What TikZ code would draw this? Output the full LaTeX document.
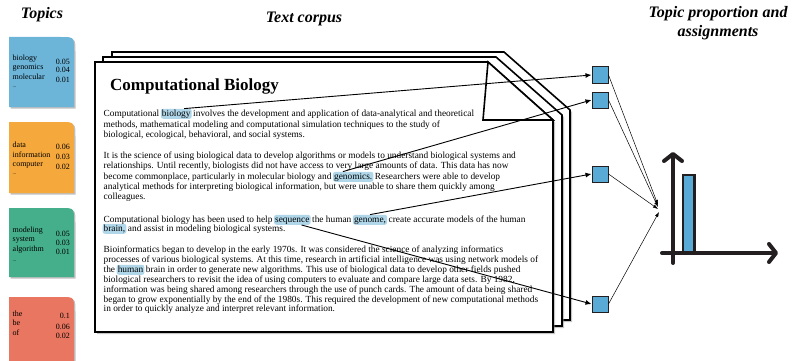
\documentclass[tikz,border=0pt]{standalone}
\usepackage{fontspec}
\setmainfont{Liberation Serif}
\usetikzlibrary{arrows.meta,positioning,shadows,calc}
\definecolor{tblue}{RGB}{108,181,217}
\definecolor{torange}{RGB}{245,168,60}
\definecolor{tgreen}{RGB}{69,175,139}
\definecolor{tred}{RGB}{232,118,96}
\definecolor{hlblue}{RGB}{176,215,233}
\definecolor{sqblue}{RGB}{90,170,214}
\definecolor{axisdark}{RGB}{35,31,32}
\newcommand\bodyfont{\fontsize{9.35}{10.2}\selectfont}
\newcommand\topicfont{\fontsize{8}{9.5}\selectfont}
\begin{document}
\begin{tikzpicture}[x=1pt,y=-1pt,
  txt/.style={inner sep=0pt, anchor=base west, font=\bodyfont},
  hl/.style={fill=hlblue, rounded corners=2.5pt, inner xsep=1.2pt, inner ysep=0.8pt, text height=6.4pt, text depth=2pt, font=\bodyfont},
  heading/.style={font=\fontsize{16}{19}\selectfont\bfseries\itshape, inner sep=0pt},
  page/.style={draw=black, line width=1.6pt, line join=miter, fill=white, drop shadow={shadow xshift=2pt, shadow yshift=-2pt, fill=black!45}},
  topicbox/.style={drop shadow={shadow xshift=1.5pt, shadow yshift=-1.5pt, fill=black!50}},
  tword/.style={inner sep=0pt, anchor=base west, font=\topicfont},
  tnum/.style={inner sep=0pt, anchor=base east, font=\topicfont},
  tdots/.style={inner sep=0pt, anchor=base west, font=\fontsize{5}{6}\selectfont},
  sq/.style={draw=axisdark, line width=1pt, fill=sqblue, minimum size=16pt, inner sep=0pt},
  wire/.style={line width=0.9pt, -{Latex[length=6pt,width=5pt]}},
  feed/.style={line width=0.5pt, -{Latex[length=5pt,width=3.5pt]}},
  axisline/.style={line width=4pt, draw=axisdark, line cap=round, -{Straight Barb[length=7pt,width=18pt,round]}},
]
\useasboundingbox (0,0) rectangle (795,361);

% ---------- headings ----------
\node[heading] (hTopics) at (42,15) {Topics};
\node[heading] (hCorpus) at (304,19) {Text corpus};
\node[heading, align=center] (hProp) at (718,23) {Topic proportion and\\assignments};

% ---------- topic boxes ----------
\fill[tblue, topicbox] (9,107) -- (9,37) -- (61,37) .. controls (74,37) .. (74,50) -- (74,107) -- cycle;
\node[tword] (b1w1) at (12.5,61) {biology};
\node[tword] (b1w2) at (12.5,70) {genomics};
\node[tword] (b1w3) at (12.5,79) {molecular};
\node[tdots] (b1d) at (12.5,88) {...};
\node[tnum] (b1n1) at (70,64) {0.05};
\node[tnum] (b1n2) at (70,73) {0.04};
\node[tnum] (b1n3) at (70,82) {0.01};

\fill[torange, topicbox] (9,193) -- (9,122) -- (61,122) .. controls (74,122) .. (74,135) -- (74,193) -- cycle;
\node[tword] (b2w1) at (12.5,147) {data};
\node[tword] (b2w2) at (12.5,157) {information};
\node[tword] (b2w3) at (12.5,166) {computer};
\node[tdots] (b2d) at (12.5,174) {...};
\node[tnum] (b2n1) at (70,149) {0.06};
\node[tnum] (b2n2) at (70,159) {0.03};
\node[tnum] (b2n3) at (70,169) {0.02};

\fill[tgreen, topicbox] (9,277) -- (9,208) -- (61,208) .. controls (74,208) .. (74,221) -- (74,277) -- cycle;
\node[tword] (b3w1) at (12.5,232) {modeling};
\node[tword] (b3w2) at (12.5,241) {system};
\node[tword] (b3w3) at (12.5,251) {algorithm};
\node[tdots] (b3d) at (12.5,261) {...};
\node[tnum] (b3n1) at (70,236) {0.05};
\node[tnum] (b3n2) at (70,245) {0.03};
\node[tnum] (b3n3) at (70,254) {0.01};

\fill[tred, topicbox] (9,362) -- (9,297) -- (61,297) .. controls (74,297) .. (74,310) -- (74,362) -- cycle;
\node[tword] (b4w1) at (12.5,316) {the};
\node[tword] (b4w2) at (12.5,325) {be};
\node[tword] (b4w3) at (12.5,335) {of};
\node[tnum] (b4n1) at (70,318) {0.1};
\node[tnum] (b4n2) at (70,329.5) {0.06};
\node[tnum] (b4n3) at (70,338) {0.02};

% ---------- pages ----------
\path[page] (112,52) -- (504,52) -- (570,110) -- (570,320) -- (112,320) -- cycle;
\path[page] (103,57) -- (496,57) -- (562,115) -- (562,326) -- (103,326) -- cycle;
\path[page] (95,62) -- (488,62) -- (553,120) -- (553,332) -- (95,332) -- cycle;

\node[font=\fontsize{17}{19}\selectfont\bfseries, inner sep=0pt, anchor=base west] (ttl) at (110,91) {Computational Biology};

% paragraph 1
\node[txt] (p1a) at (103.5,116) {Computational};
\node[hl, base right=1.1pt of p1a] (wBio) {biology};
\node[txt, base right=1.1pt of wBio] (p1b) {involves the development and application of data-analytical and theoretical};
\node[txt] (p1c) at (103.5,127) {methods, mathematical modeling and computational simulation techniques to the study of};
\node[txt] (p1d) at (103.5,137) {biological, ecological, behavioral, and social systems.};

% paragraph 2
\node[txt] (p2a) at (103.5,158) {It is the science of using biological data to develop algorithms or models to understand biological systems and};
\node[txt] (p2b) at (103.5,168) {relationships. Until recently, biologists did not have access to very large amounts of data. This data has now};
\node[txt] (p2c) at (103.5,179) {become commonplace, particularly in molecular biology and};
\node[hl, base right=1.1pt of p2c] (wGen) {genomics.};
\node[txt, base right=1.1pt of wGen] (p2d) {Researchers were able to develop};
\node[txt] (p2e) at (103.5,189) {analytical methods for interpreting biological information, but were unable to share them quickly among};
\node[txt] (p2f) at (103.5,199) {colleagues.};

% paragraph 3
\node[txt] (p3a) at (103.5,222) {Computational biology has been used to help};
\node[hl, base right=1.1pt of p3a] (wSeq) {sequence};
\node[txt, base right=1.1pt of wSeq] (p3b) {the human};
\node[hl, base right=1.1pt of p3b] (wGnm) {genome,};
\node[txt, base right=1.1pt of wGnm] (p3c) {create accurate models of the human};
\node[hl, anchor=base west] (wBrain) at (102.3,231) {brain,};
\node[txt, base right=1.1pt of wBrain] (p3d) {and assist in modeling biological systems.};

% paragraph 4
\node[txt] (p4a) at (103.5,252) {Bioinformatics began to develop in the early 1970s. It was considered the science of analyzing informatics};
\node[txt] (p4b) at (103.5,262) {processes of various biological systems. At this time, research in artificial intelligence was using network models of};
\node[txt] (p4c) at (103.5,272) {the};
\node[hl, base right=1.1pt of p4c] (wHum) {human};
\node[txt, base right=1.1pt of wHum] (p4d) {brain in order to generate new algorithms. This use of biological data to develop other fields pushed};
\node[txt] (p4e) at (103.5,282) {biological researchers to revisit the idea of using computers to evaluate and compare large data sets. By 1982,};
\node[txt] (p4f) at (103.5,292) {information was being shared among researchers through the use of punch cards. The amount of data being shared};
\node[txt] (p4g) at (103.5,302) {began to grow exponentially by the end of the 1980s. This required the development of new computational methods};
\node[txt] (p4h) at (103.5,311) {in order to quickly analyze and interpret relevant information.};

% folded corner
\path[draw=black, line width=1.6pt, line join=miter, fill=white] (488,62) -- (483,120) -- (553,120) -- cycle;

% ---------- squares ----------
\node[sq] (s1) at (600,75) {};
\node[sq] (s2) at (600,100) {};
\node[sq] (s3) at (600,174) {};
\node[sq] (s4) at (600,304) {};

% word -> square
\draw[wire] ($(wBio.north)!0.5!(wBio.north east)$) -- (s1.west);
\draw[wire] ($(wGen.north west)!0.5!(wGen.north)$) -- (s2.west);
\draw[wire] (wGnm.north) -- (s3.west);
\draw[wire] ($(wSeq.south)!0.5!(wSeq.south east)$) -- (s4.west);

% ---------- chart ----------
\coordinate (c1) at (658,205);
\coordinate (c2) at (658,207);
\coordinate (c3) at (658,209);
\coordinate (c4) at (659,212);
\draw[feed] (s1.east) -- (c1);
\draw[feed] (s2.east) -- (c2);
\draw[feed] (s3.east) -- (c3);
\draw[feed] (s4.east) -- (c4);

\coordinate (vb) at (673,263);
\coordinate (vt) at (673,152);
\coordinate (hb) at (662,253);
\coordinate (ht) at (778,253);
\draw[draw=axisdark, line width=2.5pt, fill=sqblue] (683,175) rectangle (694.5,253);
\draw[axisline] (vb) -- (vt);
\draw[axisline] (hb) -- (ht);
\end{tikzpicture}
\end{document}
